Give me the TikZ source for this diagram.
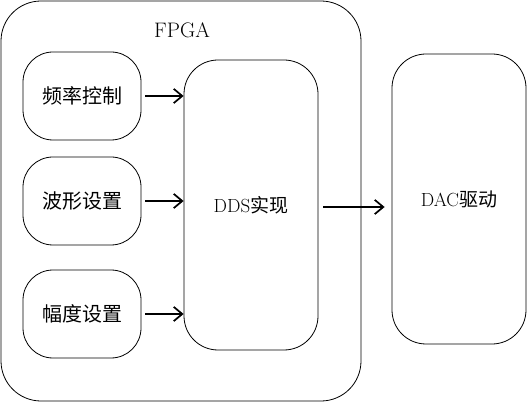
\documentclass[tikz,border=0pt]{standalone}
\usepackage{fontspec}
\usepackage{tikz}
\usetikzlibrary{arrows.meta, positioning}
\newfontfamily\cjk{Noto Sans CJK SC}

\begin{document}
\begin{tikzpicture}[x=1pt, y=-1pt,
      b/.style={draw, line width=0.8pt, align=center, font=\fontsize{20}{22}\selectfont,
                inner sep=0pt},
      ctl/.style={b, rounded corners=30pt, minimum width=118pt, minimum height=88pt},
      blk/.style={b, rounded corners=34pt, minimum width=134pt, minimum height=290pt,
                  font=\fontsize{19}{21}\selectfont},
      ar/.style={-{Straight Barb[length=3mm, width=5mm]}, line width=1.7pt}
    ]
    \useasboundingbox (0,0) rectangle (527,403);
    \node[b, rounded corners=40pt, minimum width=360pt, minimum height=400pt] (fpga) at (181,201) {};
    \node[font=\fontsize{21}{23}\selectfont] (title) at (182,30) {FPGA};

    \node[ctl] (freq) at (82,96)  {\cjk 频率控制};
    \node[ctl] (wave) at (82,201) {\cjk 波形设置};
    \node[ctl] (amp)  at (82,314) {\cjk 幅度设置};

    \node[blk] (dds) at (251,205) {DDS{\cjk 实现}};
    \node[blk] (dac) at (459,199) {DAC{\cjk 驱动}};

    \draw[ar, shorten <=4pt] (freq.east) -- (freq.east -| dds.west);
    \draw[ar, shorten <=4pt] (wave.east) -- (wave.east -| dds.west);
    \draw[ar, shorten <=4pt] (amp.east)  -- (amp.east -| dds.west);
    \draw[ar, shorten <=5pt, shorten >=7pt] ([yshift=-2pt]dds.east) -- ([yshift=-2pt]dds.east -| dac.west);
  \end{tikzpicture}
\end{document}
